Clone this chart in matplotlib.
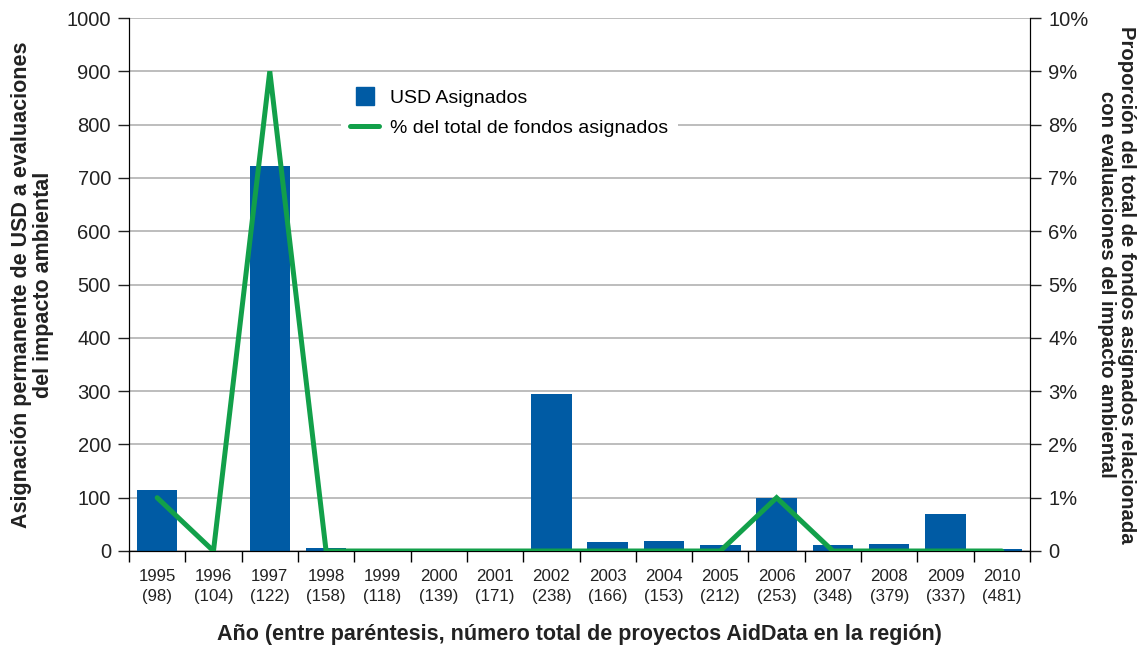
import numpy as np
import matplotlib
matplotlib.use("Agg")
import matplotlib.pyplot as plt
from matplotlib.lines import Line2D
from matplotlib.ticker import FuncFormatter

plt.rcParams["font.family"] = ["Liberation Sans", "DejaVu Sans"]

years    = [1995, 1996, 1997, 1998, 1999, 2000, 2001, 2002,
            2003, 2004, 2005, 2006, 2007, 2008, 2009, 2010]
projects = [98, 104, 122, 158, 118, 139, 171, 238,
            166, 153, 212, 253, 348, 379, 337, 481]
usd      = [115, 0, 723, 6, 0, 0, 0, 295,
            17, 19, 11, 100, 11, 13, 69, 4]
pct      = [1, 0, 9, 0, 0, 0, 0, 0,
            0, 0, 0, 1, 0, 0, 0, 0]

BLUE  = "#005ba4"
GREEN = "#12a04a"
GRID  = "#ababab"
TXT   = "#222222"

x = np.arange(len(years))

fig = plt.figure(figsize=(11.4, 6.5), dpi=100)
ax = fig.add_axes([129/1140, 1 - 551/650, (1030-129)/1140, (551-18)/650])
ax2 = ax.twinx()

# ── bars + grid on primary axis ──────────────────────────────────────────────
ax.bar(x, usd, width=0.72, color=BLUE, zorder=2)
ax.set_ylim(0, 1000)
ax.set_yticks(np.arange(0, 1001, 100))
ax.yaxis.grid(True, color=GRID, lw=1.1, zorder=0)
ax.set_axisbelow(True)
ax.set_xlim(-0.5, len(years) - 0.5)

# x ticks at category boundaries, labels at centres
ax.set_xticks(np.arange(-0.5, len(years)))
ax.set_xticklabels([])
ax.set_xticks(x, minor=True)
ax.set_xticklabels([f"{y}\n({p})" for y, p in zip(years, projects)], minor=True,
                   fontsize=12.2, color=TXT, linespacing=1.45)
ax.tick_params(axis="x", which="major", length=8, width=1, direction="out")
ax.tick_params(axis="x", which="minor", length=0, pad=13)
ax.tick_params(axis="y", length=8, width=1, labelsize=14.5, colors=TXT, pad=5)

ax.spines["top"].set_visible(False)
ax2.spines["top"].set_visible(False)

# ── percentage line on secondary axis ────────────────────────────────────────
ax2.plot(x, pct, color=GREEN, lw=3.6, solid_capstyle="round",
         solid_joinstyle="miter", zorder=3)
ax2.set_ylim(0, 10)
ax2.set_yticks(np.arange(0, 11, 1))
ax2.yaxis.set_major_formatter(FuncFormatter(lambda v, _: "0" if v == 0 else f"{int(v)}%"))
ax2.tick_params(axis="y", length=8, width=1, labelsize=14.5, colors=TXT, pad=5)

ax.set_ylabel("Asignación permanente de USD a evaluaciones\ndel impacto ambiental",
              fontsize=15.5, fontweight="bold", color=TXT, labelpad=9,
              linespacing=1.05)
ax2.set_ylabel("Proporción del total de fondos asignados relacionada\ncon evaluaciones del impacto ambiental",
               fontsize=14.6, fontweight="bold", color=TXT, rotation=270,
               labelpad=34, linespacing=1.05)
ax.set_xlabel("Año (entre paréntesis, número total de proyectos AidData en la región)",
              fontsize=15.5, fontweight="bold", color=TXT, labelpad=14)

handles = [Line2D([], [], ls="none", marker="s", ms=12.5, color=BLUE),
           Line2D([], [], color=GREEN, lw=3.6, solid_capstyle="round")]
leg = ax2.legend(handles, ["USD Asignados", "% del total de fondos asignados"],
                 loc="upper left", bbox_to_anchor=(0.235, 0.885), frameon=True,
                 fontsize=14, handlelength=1.45, handletextpad=0.6,
                 borderpad=0.5, labelspacing=0.65, borderaxespad=0)
leg.get_frame().set_facecolor("white")
leg.get_frame().set_edgecolor("none")
leg.get_frame().set_alpha(1)
leg.set_zorder(5)

fig.savefig("out.png", dpi=100)
